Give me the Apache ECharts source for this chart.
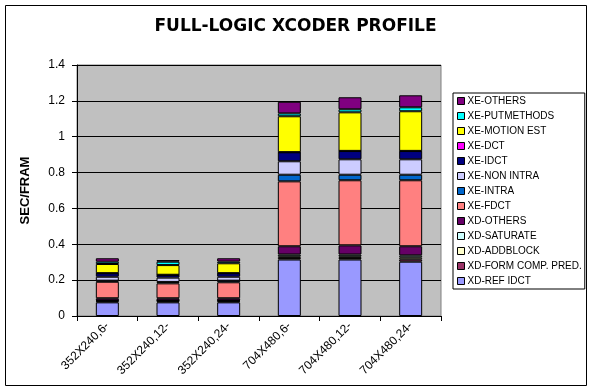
<!DOCTYPE html>
<html><head><meta charset="utf-8">
<script src="https://cdn.jsdelivr.net/npm/echarts@6/dist/echarts.min.js"></script>
<style>html,body{margin:0;padding:0;background:#fff}#c{width:591px;height:391px}</style>
</head><body><div id="c"></div>
<script>
// Categories (x axis)
const categories = ['352X240,6-', '352X240,12-', '352X240,24-', '704X480,6-', '704X480,12-', '704X480,24-'];

// Series values (bottom of stack first), seconds per frame
const xdRefIdct    = [0.076, 0.076, 0.076, 0.315, 0.315, 0.303];
const xdFormComp   = [0.006, 0.006, 0.006, 0.009, 0.009, 0.013];
const xdAddblock   = [0.003, 0.003, 0.003, 0.009, 0.009, 0.011];
const xdSaturate   = [0.002, 0.002, 0.002, 0.010, 0.010, 0.011];
const xdOthers     = [0.012, 0.012, 0.012, 0.046, 0.051, 0.051];
const xeFdct       = [0.092, 0.083, 0.089, 0.362, 0.363, 0.368];
const xeIntra      = [0.006, 0.008, 0.009, 0.037, 0.031, 0.031];
const xeNonIntra   = [0.022, 0.024, 0.022, 0.075, 0.086, 0.086];
const xeIdct       = [0.019, 0.015, 0.019, 0.050, 0.046, 0.046];
const xeDct        = [0.001, 0.001, 0.001, 0.001, 0.001, 0.001];
const xeMotionEst  = [0.051, 0.054, 0.055, 0.200, 0.215, 0.221];
const xePutmethods = [0.013, 0.019, 0.010, 0.016, 0.017, 0.022];
const xeOthers     = [0.019, 0.009, 0.018, 0.065, 0.067, 0.067];

// Y axis ticks
const yMin = 0, yMax = 1.4, yStep = 0.2;

const seriesDefs = [
  ['XD-REF IDCT', xdRefIdct, '#9999FF'],
  ['XD-FORM COMP. PRED.', xdFormComp, '#993366'],
  ['XD-ADDBLOCK', xdAddblock, '#FFFFCC'],
  ['XD-SATURATE', xdSaturate, '#CCFFFF'],
  ['XD-OTHERS', xdOthers, '#660066'],
  ['XE-FDCT', xeFdct, '#FF8080'],
  ['XE-INTRA', xeIntra, '#0066CC'],
  ['XE-NON INTRA', xeNonIntra, '#CCCCFF'],
  ['XE-IDCT', xeIdct, '#000080'],
  ['XE-DCT', xeDct, '#FF00FF'],
  ['XE-MOTION EST', xeMotionEst, '#FFFF00'],
  ['XE-PUTMETHODS', xePutmethods, '#00FFFF'],
  ['XE-OTHERS', xeOthers, '#800080']
];

const FONT = "'Liberation Sans', Arial, sans-serif";
const chart = echarts.init(document.getElementById('c'), null, {renderer: 'canvas'});
chart.setOption({
  animation: false,
  backgroundColor: '#ffffff',
  textStyle: {fontFamily: FONT},
  title: {
    text: 'FULL-LOGIC XCODER PROFILE',
    left: 'center', top: 13,
    textStyle: {fontFamily: "'DejaVu Sans', sans-serif", fontWeight: 'bold', fontSize: 17, color: '#000'}
  },
  graphic: [{
    type: 'rect', silent: true, z: 100,
    shape: {x: 5.5, y: 5.5, width: 581, height: 380},
    style: {fill: 'none', stroke: '#000', lineWidth: 1}
  }],
  legend: {
    orient: 'vertical',
    left: 453, top: 93,
    data: seriesDefs.map(d => d[0]).reverse(),
    itemWidth: 7, itemHeight: 7, itemGap: 3,
    icon: 'rect',
    padding: [2, 3, 2, 4],
    borderColor: '#000', borderWidth: 1,
    backgroundColor: '#fff',
    itemStyle: {borderColor: '#000', borderWidth: 1},
    textStyle: {fontFamily: FONT, fontSize: 10, color: '#000', lineHeight: 12, padding: [0, 0, 0, -2]}
  },
  grid: {
    left: 77, right: 150, top: 65, bottom: 75,
    show: true, backgroundColor: '#C0C0C0', borderColor: '#808080', borderWidth: 1
  },
  xAxis: {
    type: 'category',
    data: categories,
    axisLine: {lineStyle: {color: '#000', width: 1}},
    axisTick: {show: true, length: 5, lineStyle: {color: '#000'}},
    axisLabel: {rotate: 45, fontSize: 12, color: '#000', margin: 8, interval: 0, fontFamily: FONT}
  },
  yAxis: {
    type: 'value',
    min: yMin, max: yMax, interval: yStep,
    name: 'SEC/FRAME',
    nameLocation: 'middle', nameRotate: 90, nameGap: 45,
    nameTruncate: {maxWidth: 72, ellipsis: ''},
    nameTextStyle: {fontFamily: FONT, fontWeight: 'bold', fontSize: 13, color: '#000'},
    axisLine: {show: true, lineStyle: {color: '#000', width: 1}},
    axisTick: {show: true, length: 5, lineStyle: {color: '#000'}},
    splitLine: {show: true, lineStyle: {color: '#000', width: 1}},
    axisLabel: {fontSize: 12, color: '#000', margin: 12, fontFamily: FONT, formatter: v => String(+v.toFixed(1))}
  },
  series: seriesDefs.map(d => ({
    name: d[0], type: 'bar', stack: 'total', data: d[1],
    barWidth: 23,
    itemStyle: {color: d[2], borderColor: '#000', borderWidth: 1}
  }))
});
</script></body></html>
